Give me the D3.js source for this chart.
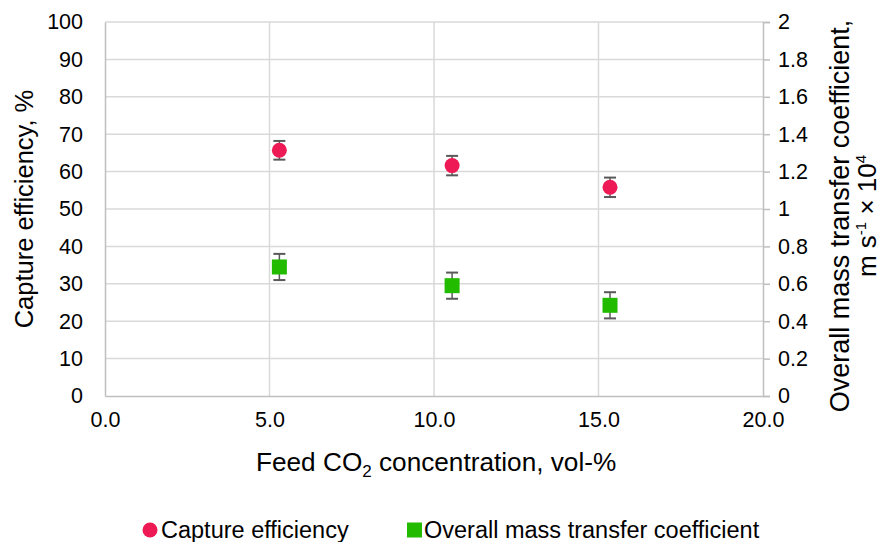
<!DOCTYPE html>
<html>
<head>
<meta charset="utf-8">
<script src="https://cdn.jsdelivr.net/npm/d3@7"></script>
<style>
  body { margin: 0; background: #fff; }
  text { font-family: "Liberation Sans", Arial, sans-serif; fill: #000; }
</style>
</head>
<body>
<svg id="chart" width="883" height="542"></svg>
<script>
// 数据
const feedCO2 = [5.3, 10.55, 15.35];
const captureEff = [65.7, 61.6, 55.8];
const captureErr = [2.5, 2.6, 2.6];
const massTransfer = [0.69, 0.59, 0.485];
const massErr = [0.07, 0.07, 0.07];

const xTicks = [0, 5, 10, 15, 20];
const yLeftTicks = d3.range(0, 101, 10);
const yRightTicks = [0, 0.2, 0.4, 0.6, 0.8, 1, 1.2, 1.4, 1.6, 1.8, 2];

const RED = "#ee1a55";
const GREEN = "#22bb00";
const GRID = "#d9d9d9";
const ERR = "#595959";

const svg = d3.select("#chart");
const pLeft = 105, pRight = 763, pTop = 22, pBottom = 396;
const TICK_FS = 21.5;

const x = d3.scaleLinear().domain([0, 20]).range([pLeft, pRight]);
const yL = d3.scaleLinear().domain([0, 100]).range([pBottom, pTop]);
const yR = d3.scaleLinear().domain([0, 2]).range([pBottom, pTop]);

// 网格线
svg.append("g")
    .selectAll("line")
    .data(yLeftTicks.filter(d => d > 0))
    .join("line")
    .attr("x1", pLeft).attr("x2", pRight)
    .attr("y1", d => yL(d)).attr("y2", d => yL(d))
    .attr("stroke", GRID).attr("stroke-width", 1.5);
svg.append("g")
    .selectAll("line")
    .data(xTicks.filter(d => d > 0 && d < 20))
    .join("line")
    .attr("x1", d => x(d)).attr("x2", d => x(d))
    .attr("y1", pTop).attr("y2", pBottom)
    .attr("stroke", GRID).attr("stroke-width", 1.5);

// 坐标轴
const gx = svg.append("g").attr("transform", `translate(0,${pBottom})`)
    .call(d3.axisBottom(x).tickValues(xTicks).tickSize(0).tickPadding(16).tickFormat(d3.format(".1f")));
const gl = svg.append("g").attr("transform", `translate(${pLeft},0)`)
    .call(d3.axisLeft(yL).tickValues(yLeftTicks).tickSize(0).tickPadding(22));
const gr = svg.append("g").attr("transform", `translate(${pRight},0)`)
    .call(d3.axisRight(yR).tickValues(yRightTicks).tickSize(7).tickPadding(8).tickFormat(d => d3.format("~g")(d)));

[gx, gl, gr].forEach(g => {
    g.select(".domain").attr("stroke", "#bfbfbf").attr("stroke-width", 1.5);
    g.selectAll(".tick line").attr("stroke", "#bfbfbf").attr("stroke-width", 1.5);
    g.selectAll(".tick text").attr("font-size", TICK_FS).attr("fill", "#000")
        .style("font-family", "Liberation Sans, Arial, sans-serif");
});

// 误差线
function errBars(vals, errs, scale) {
    const g = svg.append("g");
    feedCO2.forEach((fx, i) => {
        const cx = x(fx);
        const y1 = scale(vals[i] + errs[i]);
        const y2 = scale(vals[i] - errs[i]);
        g.append("line").attr("x1", cx).attr("x2", cx).attr("y1", y1).attr("y2", y2)
            .attr("stroke", ERR).attr("stroke-width", 1.5);
        g.append("line").attr("x1", cx - 6).attr("x2", cx + 6).attr("y1", y1).attr("y2", y1)
            .attr("stroke", ERR).attr("stroke-width", 2);
        g.append("line").attr("x1", cx - 6).attr("x2", cx + 6).attr("y1", y2).attr("y2", y2)
            .attr("stroke", ERR).attr("stroke-width", 2);
    });
}
errBars(captureEff, captureErr, yL);
errBars(massTransfer, massErr, yR);

// 点
svg.append("g").selectAll("circle")
    .data(feedCO2)
    .join("circle")
    .attr("cx", d => x(d))
    .attr("cy", (d, i) => yL(captureEff[i]))
    .attr("r", 7.5)
    .attr("fill", RED);

svg.append("g").selectAll("rect")
    .data(feedCO2)
    .join("rect")
    .attr("x", d => x(d) - 7.5)
    .attr("y", (d, i) => yR(massTransfer[i]) - 7.5)
    .attr("width", 15).attr("height", 15)
    .attr("fill", GREEN);

// 标题
const xt = svg.append("text")
    .attr("x", 256).attr("y", 471)
    .attr("font-size", 26.2);
xt.append("tspan").text("Feed CO");
xt.append("tspan").attr("font-size", 17).attr("dy", 6).text("2");
xt.append("tspan").attr("dy", -6).text(" concentration, vol-%");

svg.append("text")
    .attr("transform", `translate(33,209) rotate(-90)`)
    .attr("text-anchor", "middle").attr("font-size", 25.5)
    .text("Capture efficiency, %");

svg.append("text")
    .attr("transform", `translate(849,216) rotate(-90)`)
    .attr("text-anchor", "middle").attr("font-size", 27)
    .text("Overall mass transfer coefficient,");
const rt = svg.append("text")
    .attr("transform", `translate(876,216) rotate(-90)`)
    .attr("text-anchor", "middle").attr("font-size", 26);
rt.append("tspan").text("m s");
rt.append("tspan").attr("font-size", 15).attr("dy", -10).text("-1");
rt.append("tspan").attr("dy", 10).text(" × 10");
rt.append("tspan").attr("font-size", 15).attr("dy", -10).text("4");

// 图例
const leg = svg.append("g").attr("transform", "translate(0,530)");
leg.append("circle").attr("cx", 150).attr("cy", 0).attr("r", 7.5).attr("fill", RED);
leg.append("text").attr("x", 161).attr("y", 8).attr("font-size", 23.5).text("Capture efficiency");
leg.append("rect").attr("x", 407).attr("y", -7.5).attr("width", 15).attr("height", 15).attr("fill", GREEN);
leg.append("text").attr("x", 424).attr("y", 8).attr("font-size", 23.5).text("Overall mass transfer coefficient");
</script>
</body>
</html>
